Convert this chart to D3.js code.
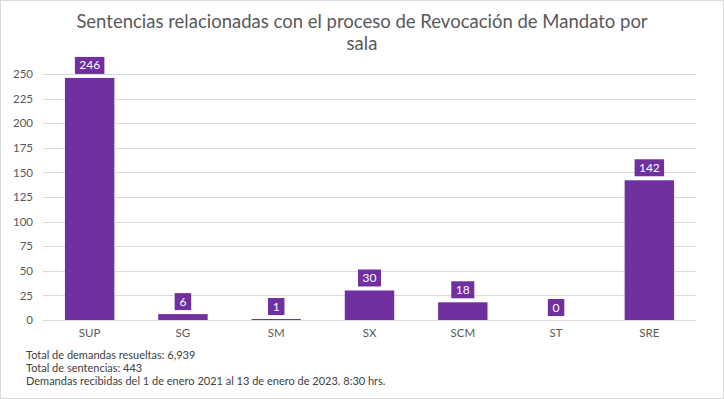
<!DOCTYPE html>
<meta charset="utf-8">
<script src="https://d3js.org/d3.v7.min.js"></script>
<style>
  body { margin: 0; background: #fff; }
  text { font-family: Lato, "Open Sans", sans-serif; }
</style>
<div id="chart"></div>
<script>
// data
var salas = ["SUP", "SG", "SM", "SX", "SCM", "ST", "SRE"];
var sentencias = [246, 6, 1, 30, 18, 0, 142];
var yTicks = [0, 25, 50, 75, 100, 125, 150, 175, 200, 225, 250];
var titleLines = ["Sentencias relacionadas con el proceso de Revocación de Mandato por", "sala"];
var notes = [
  "Total de demandas resueltas: 6,939",
  "Total de sentencias: 443",
  "Demandas recibidas del 1 de enero 2021 al 13 de enero de 2023. 8:30 hrs."
];

var W = 724, H = 399;
var margin = {top: 74, right: 28, bottom: 79, left: 43},
    width = W - margin.left - margin.right,
    height = H - margin.top - margin.bottom;

var root = d3.select("#chart").append("svg")
    .attr("width", W).attr("height", H);

// border
root.append("rect")
  .attr("x", 0.5).attr("y", 0.5)
  .attr("width", W - 1).attr("height", H - 1)
  .attr("fill", "#fff").attr("stroke", "#d9d9d9");

// title
root.append("g").selectAll("text")
  .data(titleLines).enter().append("text")
    .attr("x", W / 2)
    .attr("y", function(d, i) { return 28 + i * 22 })
    .attr("text-anchor", "middle")
    .attr("font-size", 18.5)
    .attr("fill", "#595959")
    .text(function(d) { return d });

var svg = root.append("g")
    .attr("transform", "translate(" + margin.left + "," + margin.top + ")");

var x = d3.scaleBand().domain(salas).range([0, width]).paddingInner(0.47).paddingOuter(0.235);
var y = d3.scaleLinear().domain([0, 250]).range([height, 0]);

// gridlines
svg.append("g").selectAll("line")
  .data(yTicks).enter().append("line")
    .attr("x1", 0).attr("x2", width)
    .attr("y1", function(d) { return Math.round(y(d)) + 0.5 })
    .attr("y2", function(d) { return Math.round(y(d)) + 0.5 })
    .attr("stroke", "#d9d9d9");

// y axis
var yAxis = svg.append("g")
  .call(d3.axisLeft(y).tickValues(yTicks).tickSize(0).tickPadding(10));
yAxis.select(".domain").remove();
yAxis.selectAll("text").attr("font-size", 11.5).attr("fill", "#595959")
  .style("font-family", "Lato, sans-serif");

// x axis
var xAxis = svg.append("g")
  .attr("transform", "translate(0," + height + ")")
  .call(d3.axisBottom(x).tickSize(0).tickPadding(9));
xAxis.select(".domain").remove();
xAxis.selectAll("text").attr("font-size", 11.5).attr("fill", "#595959")
  .style("font-family", "Lato, sans-serif");

// bars
svg.append("g").selectAll("rect")
  .data(salas).enter().append("rect")
    .attr("x", function(d) { return x(d) })
    .attr("width", x.bandwidth())
    .attr("y", function(d, i) { return y(sentencias[i]) })
    .attr("height", function(d, i) { return Math.max(height - y(sentencias[i]), 0) })
    .attr("fill", "#7030a0");

// value labels
var labels = svg.append("g").selectAll("g")
  .data(salas).enter().append("g")
    .attr("transform", function(d, i) {
      return "translate(" + (x(d) + x.bandwidth() / 2) + "," + (y(sentencias[i]) - 4) + ")";
    });
labels.append("rect")
  .attr("x", function(d, i) { var w = String(sentencias[i]).length * 6.5 + 10; return -w / 2 })
  .attr("width", function(d, i) { return String(sentencias[i]).length * 6.5 + 10 })
  .attr("y", -17).attr("height", 17)
  .attr("fill", "#7030a0");
labels.append("text")
  .attr("y", -4.5)
  .attr("text-anchor", "middle")
  .attr("font-size", 12)
  .attr("fill", "#fff")
  .text(function(d, i) { return sentencias[i] });

// notes
root.append("g").selectAll("text")
  .data(notes).enter().append("text")
    .attr("x", 26)
    .attr("y", function(d, i) { return 359 + i * 13 })
    .attr("font-size", 11)
    .attr("fill", "#404040")
    .text(function(d) { return d });
</script>
